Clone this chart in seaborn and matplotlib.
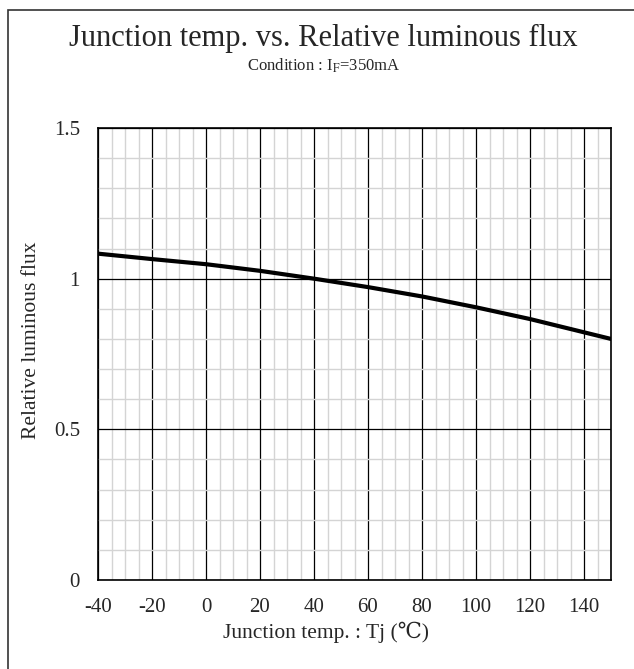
import numpy as np
import pandas as pd
import matplotlib
matplotlib.use("Agg")
import matplotlib.pyplot as plt
from matplotlib.patches import Rectangle
from matplotlib.ticker import MultipleLocator
import seaborn as sns

# Valores
temp_c = [-40, -20, 0, 20, 40, 60, 80, 100, 120, 140, 150]
rel_flux = [1.083, 1.065, 1.048, 1.026, 1.0, 0.972, 0.941, 0.905, 0.866, 0.822, 0.80]
x_ticks = [-40, -20, 0, 20, 40, 60, 80, 100, 120, 140]
y_ticks = [0, 0.5, 1, 1.5]
y_tick_labels = ["0", "0.5", "1", "1.5"]

df = pd.DataFrame({"Tj": temp_c, "flux": rel_flux})

sns.set_style("white")
plt.rcParams["font.family"] = ["Liberation Serif", "DejaVu Serif"]
plt.rcParams["mathtext.fontset"] = "stix"
plt.rcParams["axes.unicode_minus"] = False

fig = plt.figure(figsize=(6.34, 6.69), dpi=100)
ax = fig.add_axes([98 / 634, 1 - 580 / 669, 513 / 634, 452 / 669])

sns.lineplot(data=df, x="Tj", y="flux", color="black", linewidth=3, ax=ax)

ax.set_xlim(-40, 150)
ax.set_ylim(0, 1.5)
ax.set_xticks(x_ticks)
ax.set_yticks(y_ticks)
ax.set_yticklabels(y_tick_labels)
ax.xaxis.set_minor_locator(MultipleLocator(5))
ax.yaxis.set_minor_locator(MultipleLocator(0.1))
ax.grid(which="minor", color="#d4d4d4", linewidth=1)
ax.grid(which="major", color="black", linewidth=0.9)
ax.set_axisbelow(True)
ax.tick_params(which="both", length=0, labelsize=15)
ax.tick_params(axis="x", pad=13)
ax.tick_params(axis="y", pad=13)
for s in ax.spines.values():
    s.set_color("black")
    s.set_linewidth(1.2)

ax.set_xlabel("")
ax.set_ylabel("")
fig.text(326 / 634, 1 - 632 / 669, "Junction temp. : Tj (℃)", ha="center", va="center", fontsize=15.5)
fig.text(32 / 634, 1 - 340 / 669, "Relative luminous flux", ha="center", va="center",
         rotation=90, fontsize=15.5)

fig.text(0.51, 1 - 38 / 669, "Junction temp. vs. Relative luminous flux",
         ha="center", va="center", fontsize=22)
fig.text(0.51, 1 - 66 / 669, r"Condition : I$_{\mathrm{F}}$=350mA",
         ha="center", va="center", fontsize=12)

# moldura da figura
fig.patches.append(Rectangle((7.5 / 634, -0.2), 1.5, 0.2 + 1 - 9.5 / 669, transform=fig.transFigure,
                             fill=False, edgecolor="#333333", linewidth=1.2))

fig.savefig("out.png", dpi=100)
